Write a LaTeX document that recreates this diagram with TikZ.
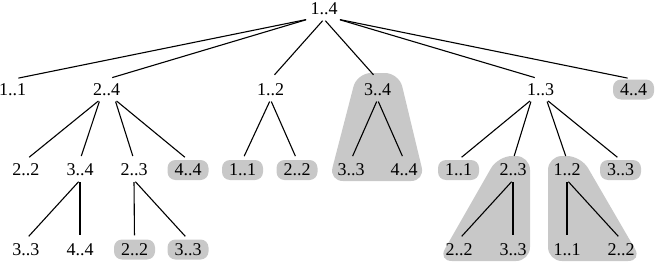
\documentclass[tikz,border=0pt]{standalone}
\usepackage{fontspec}
\setmainfont{Liberation Serif}
\newfontfamily\lblfont{Liberation Serif}
\usetikzlibrary{calc,backgrounds}
\definecolor{shade}{RGB}{200,200,200}
\tikzset{lbl/.style={inner sep=0pt,minimum width=41pt,minimum height=20pt,font=\lblfont\fontsize{18}{20}\selectfont},
  leaf/.style={lbl,fill=shade,rounded corners=8pt},
  blob/.style={fill=shade,rounded corners=14pt},
  ln/.style={draw,line width=1.1pt,shorten <=2pt,shorten >=4pt},
  ln0/.style={ln,shorten >=6pt}}

\begin{document}
\begin{tikzpicture}[x=1pt,y=-1pt]
\useasboundingbox (0,0) rectangle (656,265);
% root and first row
\node[lbl] (r) at (324,9) {1..4};
\node[lbl] (a11) at (12.5,89.5) {1..1};
\node[lbl] (a24) at (106.5,89.5) {2..4};
\node[lbl] (a12) at (270.5,89.5) {1..2};
\node[lbl] (a34) at (377.5,89.5) {3..4};
\node[lbl] (a13) at (540.5,89.5) {1..3};
\node[leaf] (a44) at (633.5,89.5) {4..4};
% second row
\node[lbl] (b22) at (26,170) {2..2};
\node[lbl] (b34) at (80,170) {3..4};
\node[lbl] (b23) at (134,170) {2..3};
\node[leaf] (b44) at (188,170) {4..4};
\node[leaf] (b11) at (242.5,170) {1..1};
\node[leaf] (b22r) at (297,170) {2..2};
\node[lbl] (b33) at (351,170) {3..3};
\node[lbl] (b44r) at (404,170) {4..4};
\node[leaf] (c11) at (458.5,170) {1..1};
\node[lbl] (c23) at (513,170) {2..3};
\node[lbl] (c12) at (567,170) {1..2};
\node[leaf] (c33) at (620.5,170) {3..3};
% third row
\node[lbl] (d33) at (26,249.5) {3..3};
\node[lbl] (d44) at (80,249.5) {4..4};
\node[leaf] (d22) at (134.5,249.5) {2..2};
\node[leaf] (d33r) at (188,249.5) {3..3};
\node[lbl] (e22) at (459,249.5) {2..2};
\node[lbl] (e33) at (513,249.5) {3..3};
\node[lbl] (e11) at (567,249.5) {1..1};
\node[lbl] (e22r) at (621,249.5) {2..2};
% shaded groups
\begin{scope}[on background layer]
\fill[blob] ($(a34)+(-20.5,-16.5)$) -- ($(a34)+(21.5,-16.5)$) -- ($(b44r)+(21,11)$) -- ($(b33)+(-22,11)$) -- cycle;
\fill[blob] ($(c23)+(-15,-14)$) -- ($(c23)+(17,-14)$) -- ($(e33)+(17,11.5)$) -- ($(e22)+(-21,11.5)$) -- cycle;
\fill[blob] ($(c12)+(-19,-14)$) -- ($(c12)+(14,-14)$) -- ($(e22r)+(21,11.5)$) -- ($(e11)+(-19,11.5)$) -- cycle;
\end{scope}
% edges
\draw[ln0] ([xshift=-16pt]r.south) -- (a11.north);\draw[ln0] ([xshift=-16pt]r.south) -- (a24.north);
\draw[ln0] (r.south) -- (a12.north);\draw[ln0] (r.south) -- (a34.north);
\draw[ln0] ([xshift=14pt]r.south) -- (a13.north);\draw[ln0] ([xshift=14pt]r.south) -- (a44.north);
\draw[ln] ([xshift=-6.5pt]a24.south) -- (b22.north);\draw[ln] ([xshift=-6.5pt]a24.south) -- (b34.north);
\draw[ln] ([xshift=8.5pt]a24.south) -- (b23.north);\draw[ln] ([xshift=8.5pt]a24.south) -- (b44.north);
\draw[ln] (a12.south) -- (b11.north);\draw[ln] (a12.south) -- (b22r.north);
\draw[ln] (a34.south) -- (b33.north);\draw[ln] (a34.south) -- (b44r.north);
\draw[ln] ([xshift=-9pt]a13.south) -- (c11.north);\draw[ln] ([xshift=-9pt]a13.south) -- (c23.north);
\draw[ln] ([xshift=6pt]a13.south) -- (c12.north);\draw[ln] ([xshift=6pt]a13.south) -- (c33.north);
\draw[ln] (b34.south) -- (d33.north);\draw[ln] (b34.south) -- (d44.north);
\draw[ln] (b23.south) -- (d22.north);\draw[ln] (b23.south) -- (d33r.north);
\draw[ln] (c23.south) -- (e22.north);\draw[ln] (c23.south) -- (e33.north);
\draw[ln] (c12.south) -- (e11.north);\draw[ln] (c12.south) -- (e22r.north);
\end{tikzpicture}
\end{document}
